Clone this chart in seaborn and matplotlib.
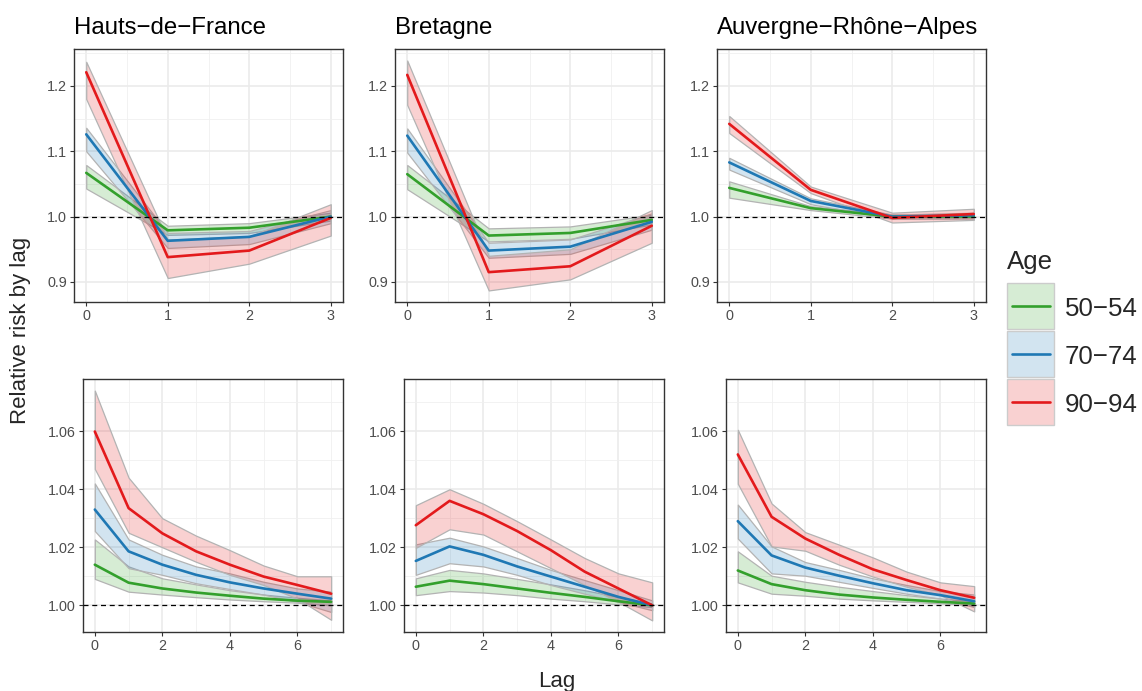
import numpy as np
import pandas as pd
import seaborn as sns
import matplotlib.pyplot as plt
from matplotlib.colors import to_rgb
from matplotlib.patches import Rectangle

regions = ["Hauts−de−France", "Bretagne", "Auvergne−Rhône−Alpes"]
ages = ["50−54", "70−74", "90−94"]
colors = ["#33A02C", "#1F78B4", "#E31A1C"]

lags_short = [0, 1, 2, 3]
lags_long = [0, 1, 2, 3, 4, 5, 6, 7]

# short-lag panels (top row), one row per age group
hdf_short_rr = [[1.067, 0.979, 0.983, 1.000],
                [1.126, 0.963, 0.969, 1.000],
                [1.221, 0.938, 0.948, 0.998]]
hdf_short_lo = [[1.043, 0.972, 0.975, 0.994],
                [1.100, 0.952, 0.958, 0.990],
                [1.180, 0.906, 0.928, 0.971]]
hdf_short_hi = [[1.079, 0.986, 0.990, 1.006],
                [1.136, 0.975, 0.978, 1.010],
                [1.237, 0.965, 0.970, 1.019]]

bre_short_rr = [[1.065, 0.971, 0.975, 0.995],
                [1.124, 0.948, 0.954, 0.992],
                [1.217, 0.915, 0.924, 0.986]]
bre_short_lo = [[1.042, 0.962, 0.966, 0.988],
                [1.098, 0.937, 0.943, 0.980],
                [1.171, 0.887, 0.904, 0.960]]
bre_short_hi = [[1.079, 0.982, 0.985, 1.003],
                [1.135, 0.960, 0.965, 1.005],
                [1.239, 0.940, 0.950, 1.010]]

ara_short_rr = [[1.044, 1.013, 1.000, 1.000],
                [1.083, 1.024, 1.000, 1.002],
                [1.142, 1.041, 0.998, 1.004]]
ara_short_lo = [[1.029, 1.010, 0.997, 0.997],
                [1.072, 1.019, 0.997, 0.998],
                [1.128, 1.036, 0.991, 0.995]]
ara_short_hi = [[1.054, 1.016, 1.003, 1.003],
                [1.090, 1.028, 1.003, 1.006],
                [1.154, 1.046, 1.006, 1.012]]

# long-lag panels (bottom row)
hdf_long_rr = [[1.0140, 1.0078, 1.0058, 1.0044, 1.0033, 1.0023, 1.0016, 1.0012],
               [1.0330, 1.0186, 1.0140, 1.0105, 1.0079, 1.0058, 1.0040, 1.0023],
               [1.0599, 1.0335, 1.0248, 1.0186, 1.0140, 1.0099, 1.0070, 1.0040]]
hdf_long_lo = [[1.0091, 1.0047, 1.0037, 1.0028, 1.0020, 1.0014, 1.0009, 1.0000],
               [1.0256, 1.0128, 1.0105, 1.0076, 1.0056, 1.0037, 1.0012, 0.9977],
               [1.0470, 1.0250, 1.0200, 1.0150, 1.0105, 1.0070, 1.0023, 0.9950]]
hdf_long_hi = [[1.0227, 1.0134, 1.0093, 1.0072, 1.0052, 1.0037, 1.0026, 1.0017],
               [1.0420, 1.0227, 1.0174, 1.0134, 1.0110, 1.0081, 1.0058, 1.0047],
               [1.0740, 1.0440, 1.0300, 1.0240, 1.0190, 1.0137, 1.0100, 1.0100]]

bre_long_rr = [[1.0064, 1.0085, 1.0073, 1.0058, 1.0043, 1.0029, 1.0014, 1.0000],
               [1.0153, 1.0203, 1.0174, 1.0134, 1.0099, 1.0064, 1.0029, 1.0000],
               [1.0276, 1.0360, 1.0314, 1.0256, 1.0190, 1.0116, 1.0058, 1.0000]]
bre_long_lo = [[1.0035, 1.0049, 1.0044, 1.0035, 1.0023, 1.0014, 1.0003, 0.9994],
               [1.0105, 1.0145, 1.0134, 1.0105, 1.0070, 1.0040, 1.0012, 0.9983],
               [1.0198, 1.0262, 1.0244, 1.0186, 1.0128, 1.0070, 1.0012, 0.9948]]
bre_long_hi = [[1.0093, 1.0122, 1.0110, 1.0091, 1.0072, 1.0052, 1.0029, 1.0006],
               [1.0210, 1.0233, 1.0203, 1.0163, 1.0122, 1.0087, 1.0052, 1.0017],
               [1.0345, 1.0400, 1.0350, 1.0290, 1.0227, 1.0163, 1.0110, 1.0079]]

ara_long_rr = [[1.0120, 1.0073, 1.0052, 1.0037, 1.0027, 1.0019, 1.0012, 1.0006],
               [1.0290, 1.0172, 1.0130, 1.0102, 1.0076, 1.0052, 1.0035, 1.0014],
               [1.0520, 1.0305, 1.0230, 1.0174, 1.0124, 1.0087, 1.0052, 1.0026]]
ara_long_lo = [[1.0079, 1.0040, 1.0033, 1.0023, 1.0017, 1.0012, 1.0007, 1.0000],
               [1.0230, 1.0110, 1.0102, 1.0081, 1.0060, 1.0040, 1.0023, 0.9994],
               [1.0419, 1.0203, 1.0188, 1.0140, 1.0099, 1.0064, 1.0035, 0.9979]]
ara_long_hi = [[1.0186, 1.0102, 1.0081, 1.0064, 1.0049, 1.0035, 1.0023, 1.0014],
               [1.0347, 1.0203, 1.0149, 1.0122, 1.0093, 1.0070, 1.0049, 1.0037],
               [1.0605, 1.0351, 1.0252, 1.0209, 1.0165, 1.0116, 1.0079, 1.0066]]

panels = {
    ("short", 0): (hdf_short_rr, hdf_short_lo, hdf_short_hi),
    ("short", 1): (bre_short_rr, bre_short_lo, bre_short_hi),
    ("short", 2): (ara_short_rr, ara_short_lo, ara_short_hi),
    ("long", 0): (hdf_long_rr, hdf_long_lo, hdf_long_hi),
    ("long", 1): (bre_long_rr, bre_long_lo, bre_long_hi),
    ("long", 2): (ara_long_rr, ara_long_lo, ara_long_hi),
}

rows = []
for (kind, r), (rr, lo, hi) in panels.items():
    lags = lags_short if kind == "short" else lags_long
    for a, age in enumerate(ages):
        for k, lag in enumerate(lags):
            rows.append(dict(kind=kind, region=regions[r], age=age, lag=lag,
                             rr=rr[a][k], lo=lo[a][k], hi=hi[a][k]))
df = pd.DataFrame(rows)

sns.set_style("white")
plt.rcParams['font.family'] = ['Liberation Sans', 'DejaVu Sans']

W, H = 1142, 691
fig = plt.figure(figsize=(W / 100, H / 100), dpi=100)


def px_axes(left, top, right, bottom):
    return fig.add_axes([left / W, 1 - bottom / H, (right - left) / W, (bottom - top) / H])


top_lefts = [74, 395, 717]
bot_lefts = [83, 404, 726]
rights = [343, 664, 986]

settings = {
    "short": dict(xlim=(-0.15, 3.15), ylim=(0.8693, 1.2566),
                  xmaj=[0, 1, 2, 3], xmin=[0.5, 1.5, 2.5],
                  ymaj=[0.9, 1.0, 1.1, 1.2], ymin=[0.95, 1.05, 1.15, 1.25],
                  yfmt="{:.1f}"),
    "long": dict(xlim=(-0.35, 7.35), ylim=(0.9908, 1.0780),
                 xmaj=[0, 2, 4, 6], xmin=[1, 3, 5, 7],
                 ymaj=[1.00, 1.02, 1.04, 1.06], ymin=[1.01, 1.03, 1.05, 1.07],
                 yfmt="{:.2f}"),
}

pal = dict(zip(ages, colors))

for kind, lefts, top, bottom in [("short", top_lefts, 49, 302), ("long", bot_lefts, 379, 632)]:
    s = settings[kind]
    for c in range(3):
        ax = px_axes(lefts[c], top, rights[c], bottom)
        sub = df[(df.kind == kind) & (df.region == regions[c])]
        for age in ages:
            d = sub[sub.age == age]
            ax.fill_between(d.lag, d.lo, d.hi, facecolor=to_rgb(pal[age]) + (0.2,),
                            edgecolor="#B3B3B3", linewidth=0.9, zorder=2)
        sns.lineplot(data=sub, x="lag", y="rr", hue="age", palette=pal,
                     hue_order=ages, linewidth=1.9, legend=False, ax=ax, zorder=3)
        ax.axhline(1.0, color="black", linestyle=(0, (4, 3)), linewidth=0.9, zorder=4)

        ax.set_xlim(*s["xlim"])
        ax.set_ylim(*s["ylim"])
        ax.set_xticks(s["xmaj"])
        ax.set_xticks(s["xmin"], minor=True)
        ax.set_yticks(s["ymaj"])
        ax.set_yticks(s["ymin"], minor=True)
        ax.set_yticklabels([s["yfmt"].format(v) for v in s["ymaj"]])
        ax.grid(which="major", color="#EBEBEB", linewidth=1.2, zorder=0)
        ax.grid(which="minor", color="#F0F0F0", linewidth=0.6, zorder=0)
        ax.set_axisbelow(True)
        ax.tick_params(which="major", length=3.2, width=0.8, color="#333333",
                       labelsize=10.4, labelcolor="#4D4D4D", pad=2,
                       left=True, bottom=True)
        ax.tick_params(which="minor", length=0)
        for sp in ax.spines.values():
            sp.set_color("#333333")
            sp.set_linewidth(1.0)
            sp.set_visible(True)
        ax.set_xlabel("")
        ax.set_ylabel("")
        if kind == "short":
            ax.text(0, 1.0 + 15 / 253, regions[c], transform=ax.transAxes,
                    fontsize=17.3, ha="left", va="baseline", color="black")

fig.text(21 / W, 1 - 330 / H, "Relative risk by lag", rotation=90,
         ha="center", va="center", fontsize=16)
fig.text(557 / W, 1 - 681 / H, "Lag", ha="center", va="center", fontsize=16)

# legend drawn in figure pixel coordinates
lg = fig.add_axes([0, 0, 1, 1], zorder=10)
lg.set_xlim(0, W)
lg.set_ylim(H, 0)
lg.axis("off")
lg.text(1007, 269, "Age", fontsize=18.6, ha="left", va="baseline")
key_tops = [283, 331, 379]
for top, age, col in zip(key_tops, ages, colors):
    lg.add_patch(Rectangle((1007, top), 47, 46, facecolor=to_rgb(col) + (0.2,),
                           edgecolor="#CCCCCC", linewidth=1.0))
    lg.plot([1012, 1050], [top + 23, top + 23], color=col, linewidth=1.9)
    lg.text(1065, top + 23, age, fontsize=18.6, ha="left", va="center_baseline")

fig.savefig("out.png", dpi=100)
